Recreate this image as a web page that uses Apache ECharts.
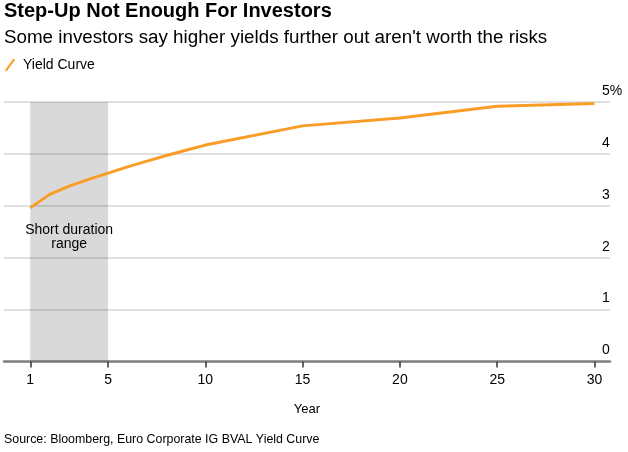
<!DOCTYPE html>
<html style="height: 100%">
<head>
    <meta charset="utf-8">
    <script src="https://cdn.jsdelivr.net/npm/echarts@6/dist/echarts.min.js"></script>
</head>
<body style="height: 100%; margin: 0; background: #fff">
    <div id="main" style="width: 628px; height: 452px"></div>
    <script type="text/javascript">
        // tenor (years) and yield (%)
        var years = [1, 2, 3, 4, 5, 6, 7, 8, 9, 10, 15, 20, 25, 30];
        var yields = [2.96, 3.22, 3.38, 3.51, 3.63, 3.75, 3.86, 3.97, 4.07, 4.17, 4.54, 4.69, 4.92, 4.97];
        var xTicks = [1, 5, 10, 15, 20, 25, 30];
        var shortRange = [1, 5];

        var FONT = 'Liberation Sans';
        var chartDom = document.getElementById('main');
        var myChart = echarts.init(chartDom);

        var option = {
            animation: false,
            title: [
                {
                    text: 'Step-Up Not Enough For Investors',
                    left: 4, top: 1, padding: 0,
                    textStyle: { fontFamily: FONT, fontSize: 20, fontWeight: 'bold', color: '#000' }
                },
                {
                    text: "Some investors say higher yields further out aren't worth the risks",
                    left: 4, top: 28, padding: 0,
                    textStyle: { fontFamily: FONT, fontSize: 18.8, fontWeight: 'normal', color: '#000' }
                },
                {
                    text: 'Source: Bloomberg, Euro Corporate IG BVAL Yield Curve',
                    left: 4, top: 434, padding: 0,
                    textStyle: { fontFamily: FONT, fontSize: 12.4, fontWeight: 'normal', color: '#000' }
                }
            ],
            legend: {
                left: 5, top: 58, padding: 0,
                itemWidth: 10, itemHeight: 13,
                icon: 'path://M0,11.5 L8.5,0 L10,1.5 L1.5,13 Z',
                textStyle: { fontFamily: FONT, fontSize: 14, color: '#000', padding: [0, 0, 0, 3] },
                data: ['Yield Curve']
            },
            grid: { left: 4, right: 18, top: 102, bottom: 90.5, containLabel: false },
            xAxis: {
                type: 'value',
                min: -0.35,
                max: 30.8,
                name: 'Year',
                nameLocation: 'middle',
                nameGap: 41,
                nameTextStyle: { fontFamily: FONT, fontSize: 13, color: '#000' },
                axisLine: { lineStyle: { color: '#808080', width: 2.5 } },
                axisTick: { show: true, customValues: xTicks, length: 6, lineStyle: { color: '#333', width: 1.5 } },
                axisLabel: { customValues: xTicks, margin: 12, fontFamily: FONT, fontSize: 14, color: '#000' },
                splitLine: { show: false }
            },
            yAxis: {
                type: 'value',
                position: 'right',
                min: 0,
                max: 5,
                interval: 1,
                axisLine: { show: false },
                axisTick: { show: false },
                axisLabel: {
                    margin: -8,
                    align: 'left',
                    verticalAlign: 'bottom',
                    padding: [0, 0, 4, 0],
                    fontFamily: FONT, fontSize: 14, color: '#000',
                    formatter: function (v) { return v === 5 ? v + '%' : String(v); }
                },
                splitLine: { lineStyle: { color: '#e0e0e0', width: 2 } }
            },
            series: [
                {
                    name: 'Yield Curve',
                    type: 'line',
                    data: years.map(function (y, i) { return [y, yields[i]]; }),
                    color: '#f99d27',
                    showSymbol: false,
                    lineStyle: { width: 3, color: '#f99d27' },
                    z: 5,
                    markArea: {
                        silent: true,
                        itemStyle: { color: 'rgba(0,0,0,0.15)' },
                        label: {
                            show: true,
                            position: 'inside',
                            offset: [0, 5],
                            fontFamily: FONT, fontSize: 14, lineHeight: 14, color: '#000'
                        },
                        data: [[
                            { name: 'Short duration\nrange', xAxis: shortRange[0], yAxis: 0 },
                            { xAxis: shortRange[1], yAxis: 5 }
                        ]]
                    }
                }
            ]
        };
        myChart.setOption(option);
    </script>
</body>
</html>
